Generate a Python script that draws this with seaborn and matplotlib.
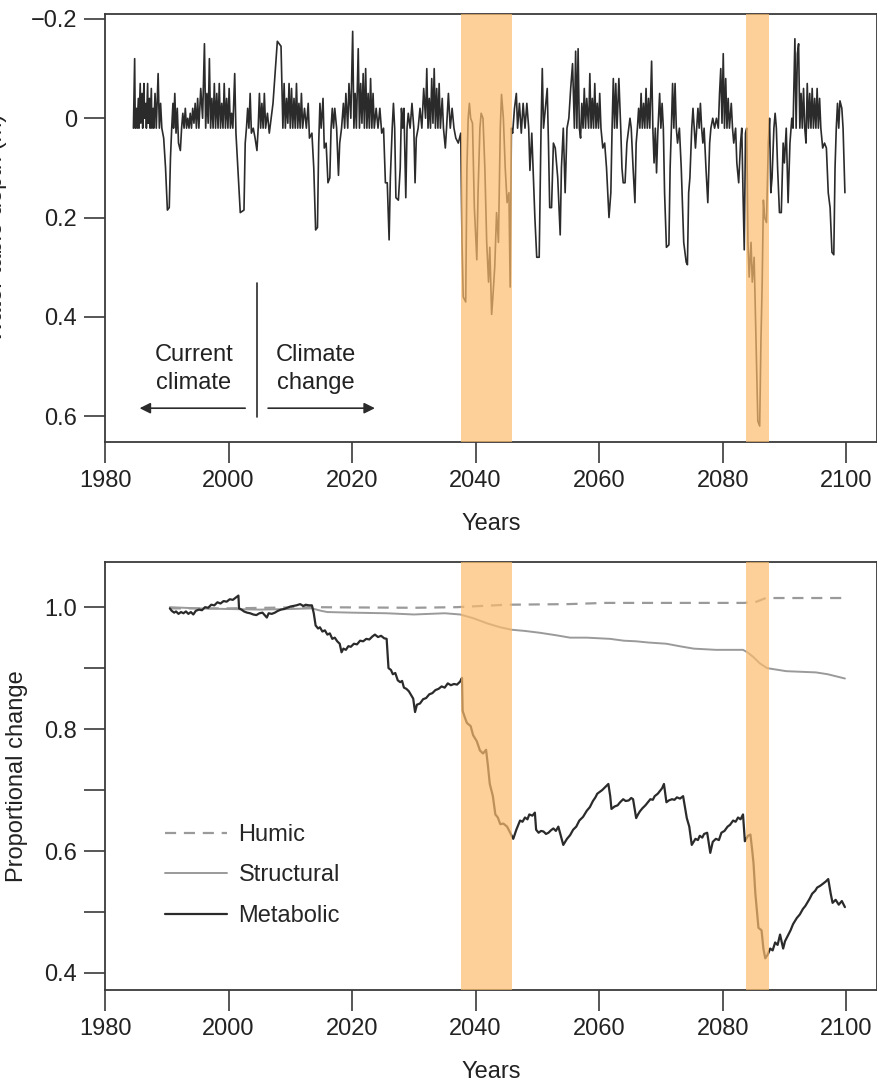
import matplotlib
matplotlib.use("Agg")
import matplotlib.pyplot as plt
import numpy as np
import pandas as pd
import seaborn as sns

# ---------------- data ----------------
wt_years = [
    1984.6, 1984.8, 1984.9, 1985.1, 1985.2, 1985.4, 1985.5, 1985.7, 1985.8, 1986.0,
    1986.1, 1986.3, 1986.4, 1986.6, 1986.7, 1986.9, 1987.0, 1987.2, 1987.3, 1987.5,
    1987.6, 1987.8, 1987.9, 1988.1, 1988.3, 1988.6, 1988.8, 1989.0, 1989.2, 1989.5,
    1989.8, 1990.1, 1990.4, 1990.6, 1990.8, 1991.0, 1991.1, 1991.3, 1991.5, 1991.7,
    1991.9, 1992.2, 1992.4, 1992.6, 1992.8, 1993.0, 1993.2, 1993.4, 1993.6, 1993.8,
    1994.0, 1994.2, 1994.4, 1994.6, 1994.8, 1995.0, 1995.2, 1995.5, 1995.8, 1996.1,
    1996.3, 1996.5, 1996.7, 1996.9, 1997.1, 1997.3, 1997.5, 1997.7, 1997.9, 1998.1,
    1998.3, 1998.5, 1998.7, 1998.9, 1999.1, 1999.3, 1999.5, 1999.7, 1999.9, 2000.1,
    2000.3, 2000.5, 2000.7, 2001.0, 2001.2, 2001.5, 2001.9, 2002.5, 2002.7, 2002.9,
    2003.1, 2003.3, 2003.5, 2003.7, 2004.0, 2004.3, 2004.6, 2004.8, 2005.0, 2005.2,
    2005.4, 2005.6, 2005.8, 2006.0, 2006.3, 2006.6, 2006.9, 2007.2, 2007.6, 2007.9,
    2008.5, 2008.8, 2009.0, 2009.2, 2009.4, 2009.6, 2009.8, 2010.0, 2010.2, 2010.4,
    2010.6, 2010.8, 2011.0, 2011.2, 2011.4, 2011.6, 2011.8, 2012.0, 2012.3, 2012.6,
    2012.9, 2013.1, 2013.5, 2013.8, 2014.1, 2014.4, 2014.6, 2014.8, 2015.0, 2015.3,
    2015.5, 2015.8, 2016.1, 2016.4, 2016.6, 2016.8, 2017.0, 2017.2, 2017.5, 2017.8,
    2018.0, 2018.3, 2018.6, 2018.8, 2019.0, 2019.3, 2019.5, 2019.8, 2020.1, 2020.3,
    2020.5, 2020.7, 2021.0, 2021.2, 2021.4, 2021.6, 2021.8, 2022.0, 2022.2, 2022.4,
    2022.6, 2022.8, 2023.0, 2023.2, 2023.4, 2023.6, 2023.9, 2024.2, 2024.5, 2024.8,
    2025.1, 2025.4, 2025.7, 2026.0, 2026.2, 2026.5, 2026.7, 2026.9, 2027.1, 2027.5,
    2027.8, 2028.0, 2028.2, 2028.4, 2028.7, 2028.9, 2029.1, 2029.4, 2029.7, 2030.0,
    2030.2, 2030.4, 2030.7, 2031.0, 2031.3, 2031.6, 2031.9, 2032.1, 2032.3, 2032.5,
    2032.7, 2032.9, 2033.1, 2033.3, 2033.5, 2033.7, 2033.9, 2034.1, 2034.3, 2034.6,
    2034.8, 2035.1, 2035.3, 2035.6, 2035.9, 2036.2, 2036.5, 2036.8, 2037.2, 2037.6,
    2037.8, 2038.0, 2038.4, 2038.6, 2038.8, 2039.0, 2039.2, 2039.5, 2039.8, 2040.2,
    2040.4, 2040.7, 2040.9, 2041.2, 2041.5, 2041.8, 2042.1, 2042.3, 2042.6, 2042.8,
    2043.1, 2043.4, 2043.7, 2044.0, 2044.2, 2044.5, 2044.8, 2045.1, 2045.4, 2045.6,
    2045.8, 2046.0, 2046.3, 2046.6, 2046.8, 2047.1, 2047.4, 2047.7, 2048.0, 2048.3,
    2048.6, 2048.8, 2049.1, 2049.3, 2049.6, 2049.9, 2050.3, 2050.6, 2050.8, 2051.0,
    2051.3, 2051.6, 2051.8, 2052.0, 2052.3, 2052.6, 2052.9, 2053.3, 2053.7, 2053.9,
    2054.2, 2054.5, 2054.8, 2055.1, 2055.4, 2055.7, 2056.0, 2056.2, 2056.4, 2056.6,
    2056.8, 2057.0, 2057.2, 2057.4, 2057.6, 2057.8, 2058.0, 2058.3, 2058.5, 2058.7,
    2058.9, 2059.1, 2059.3, 2059.5, 2059.7, 2059.9, 2060.1, 2060.3, 2060.6, 2060.9,
    2061.2, 2061.6, 2061.9, 2062.1, 2062.3, 2062.5, 2062.7, 2062.9, 2063.2, 2063.5,
    2063.7, 2063.9, 2064.2, 2064.5, 2064.8, 2065.0, 2065.2, 2065.5, 2065.8, 2066.0,
    2066.2, 2066.4, 2066.6, 2066.8, 2067.0, 2067.2, 2067.4, 2067.6, 2067.8, 2068.0,
    2068.2, 2068.5, 2068.7, 2068.9, 2069.1, 2069.3, 2069.5, 2069.8, 2070.0, 2070.2,
    2070.4, 2070.6, 2070.9, 2071.3, 2071.5, 2071.7, 2071.9, 2072.1, 2072.3, 2072.5,
    2072.7, 2073.0, 2073.3, 2073.7, 2074.1, 2074.3, 2074.5, 2074.7, 2075.0, 2075.2,
    2075.4, 2075.6, 2075.8, 2076.0, 2076.2, 2076.4, 2076.6, 2076.8, 2077.0, 2077.3,
    2077.6, 2077.9, 2078.1, 2078.4, 2078.7, 2079.0, 2079.3, 2079.5, 2079.7, 2079.9,
    2080.1, 2080.3, 2080.5, 2080.7, 2080.9, 2081.1, 2081.4, 2081.6, 2081.8, 2082.1,
    2082.3, 2082.6, 2082.9, 2083.1, 2083.3, 2083.5, 2083.7, 2083.9, 2084.1, 2084.3,
    2084.6, 2084.8, 2085.1, 2085.4, 2085.7, 2086.0, 2086.2, 2086.4, 2086.6, 2086.8,
    2087.1, 2087.4, 2087.6, 2087.8, 2088.0, 2088.3, 2088.5, 2088.7, 2088.9, 2089.2,
    2089.5, 2089.8, 2090.0, 2090.3, 2090.6, 2090.9, 2091.2, 2091.4, 2091.7, 2091.9,
    2092.1, 2092.3, 2092.5, 2092.7, 2092.9, 2093.1, 2093.3, 2093.5, 2093.7, 2093.9,
    2094.1, 2094.3, 2094.5, 2094.7, 2094.9, 2095.1, 2095.3, 2095.5, 2095.7, 2095.9,
    2096.2, 2096.5, 2096.8, 2097.1, 2097.4, 2097.7, 2098.0, 2098.2, 2098.4, 2098.6,
    2098.8, 2099.0, 2099.3, 2099.5, 2099.8,
]
wt_depth = [
    0.02, -0.12, 0.02, -0.02, 0.02, -0.04, 0.02, -0.07, 0.01, -0.05,
    0.02, -0.07, 0.00, -0.03, 0.02, -0.07, 0.01, -0.04, 0.02, -0.06,
    0.02, -0.02, 0.02, -0.05, 0.02, -0.09, 0.02, -0.03, 0.02, 0.04,
    0.10, 0.185, 0.18, 0.08, 0.02, -0.03, 0.02, -0.05, 0.03, -0.02,
    0.05, 0.065, 0.02, -0.01, 0.02, -0.02, 0.02, 0.00, 0.02, -0.01,
    0.02, -0.02, 0.01, -0.03, 0.02, -0.04, 0.02, -0.06, 0.00, -0.15,
    0.02, -0.05, 0.01, -0.12, 0.02, -0.04, 0.02, -0.07, 0.02, -0.05,
    0.02, -0.07, 0.02, -0.03, 0.02, -0.07, 0.02, -0.04, 0.02, -0.06,
    0.02, -0.01, 0.02, -0.09, 0.03, 0.10, 0.19, 0.185, 0.05, 0.02,
    -0.02, 0.02, -0.05, 0.03, 0.02, 0.04, 0.065, 0.02, -0.05, 0.02,
    -0.03, 0.02, -0.05, 0.02, -0.01, 0.03, 0.00, -0.03, -0.10, -0.155,
    -0.145, 0.02, -0.07, 0.02, -0.04, 0.01, -0.07, 0.02, -0.06, 0.02,
    -0.04, 0.02, -0.07, 0.02, -0.03, 0.02, -0.05, 0.02, -0.02, 0.02,
    -0.03, 0.04, 0.03, 0.10, 0.225, 0.22, 0.05, -0.03, 0.02, -0.04,
    0.06, 0.05, 0.13, 0.12, 0.02, -0.02, 0.02, -0.02, 0.02, 0.115,
    0.05, 0.02, -0.03, 0.02, -0.05, 0.02, -0.07, 0.00, -0.175, 0.02,
    -0.05, 0.02, -0.14, 0.02, -0.07, 0.01, -0.09, 0.02, -0.10, 0.02,
    -0.05, 0.02, -0.08, 0.02, -0.05, 0.02, -0.02, 0.02, -0.02, 0.03,
    0.02, 0.13, 0.13, 0.245, 0.12, 0.02, -0.03, 0.02, 0.16, 0.165,
    0.10, -0.02, 0.02, -0.02, 0.16, 0.02, -0.01, 0.02, -0.03, 0.02,
    0.13, 0.04, 0.02, -0.02, 0.02, -0.06, 0.00, -0.10, 0.02, -0.04,
    0.02, -0.08, 0.01, -0.10, 0.02, -0.06, 0.02, -0.07, 0.02, -0.04,
    0.02, 0.06, 0.02, -0.05, 0.02, -0.02, 0.02, 0.04, 0.05, 0.03,
    0.25, 0.36, 0.37, 0.10, 0.00, -0.03, 0.00, 0.01, 0.18, 0.285,
    0.15, 0.02, -0.01, 0.00, 0.10, 0.25, 0.33, 0.26, 0.395, 0.36,
    0.30, 0.19, 0.25, 0.02, -0.048, 0.00, 0.10, 0.17, 0.15, 0.34,
    0.02, 0.03, -0.02, -0.05, 0.02, -0.03, 0.03, -0.03, 0.02, -0.03,
    0.02, 0.105, 0.03, 0.10, 0.20, 0.28, 0.28, 0.02, -0.10, 0.02,
    -0.02, -0.06, 0.05, 0.18, 0.18, 0.05, 0.06, 0.12, 0.235, 0.10,
    0.02, 0.15, 0.02, 0.00, -0.06, -0.11, 0.02, -0.135, 0.02, -0.14,
    0.02, 0.04, -0.03, 0.02, -0.06, 0.02, -0.04, 0.02, -0.09, 0.02,
    -0.04, 0.02, -0.07, 0.02, -0.03, 0.02, -0.05, 0.02, 0.06, 0.05,
    0.10, 0.20, 0.15, 0.02, -0.08, 0.02, -0.07, 0.02, -0.08, 0.02,
    0.10, 0.13, 0.13, 0.05, 0.02, 0.00, 0.02, 0.10, 0.17, 0.05,
    0.02, -0.02, 0.02, -0.05, 0.02, -0.03, 0.02, -0.06, 0.02, -0.04,
    0.02, -0.115, 0.02, 0.09, 0.02, 0.11, 0.03, -0.05, 0.02, -0.03,
    0.02, 0.15, 0.26, 0.255, 0.10, 0.02, -0.07, 0.02, -0.07, 0.02,
    0.05, 0.02, 0.10, 0.25, 0.29, 0.295, 0.15, 0.12, 0.02, -0.02,
    0.02, 0.06, 0.02, -0.02, 0.02, -0.03, 0.02, 0.05, 0.02, 0.10,
    0.17, 0.05, 0.02, 0.00, 0.02, 0.00, 0.02, -0.05, -0.10, 0.01,
    -0.13, 0.02, -0.08, 0.02, -0.04, 0.02, -0.03, 0.02, 0.05, 0.02,
    0.09, 0.13, 0.05, 0.02, 0.15, 0.265, 0.03, 0.02, 0.25, 0.32,
    0.25, 0.33, 0.28, 0.45, 0.61, 0.62, 0.45, 0.335, 0.165, 0.20,
    0.21, 0.05, 0.00, 0.15, 0.12, 0.02, -0.01, 0.02, 0.10, 0.19,
    0.19, 0.05, 0.09, 0.02, 0.17, 0.05, 0.00, 0.02, -0.16, 0.02,
    -0.13, -0.15, 0.02, -0.05, 0.02, -0.06, 0.02, 0.05, -0.07, 0.02,
    -0.05, 0.02, -0.06, 0.02, -0.04, 0.02, -0.06, 0.02, -0.04, 0.02,
    0.06, 0.05, 0.06, 0.15, 0.18, 0.27, 0.275, 0.10, 0.02, -0.03,
    0.02, -0.035, -0.02, 0.02, 0.15,
]

met_years = [
    1990.5, 1990.8, 1991.2, 1991.5, 1991.9, 1992.3, 1992.7, 1993.1, 1993.5, 1993.9,
    1994.3, 1994.7, 1995.2, 1995.7, 1996.2, 1996.7, 1997.2, 1997.7, 1998.2, 1998.7,
    1999.2, 1999.7, 2000.2, 2000.7, 2001.2, 2001.6, 2001.7, 2002.1, 2002.5, 2003.0,
    2003.5, 2004.0, 2004.5, 2005.0, 2005.5, 2006.2, 2006.5, 2007.0, 2007.5, 2008.0,
    2008.5, 2009.0, 2009.5, 2010.0, 2010.5, 2011.0, 2011.6, 2012.1, 2012.5, 2013.0,
    2013.5, 2013.8, 2014.1, 2014.5, 2014.8, 2015.2, 2015.6, 2016.0, 2016.4, 2016.8,
    2017.2, 2017.6, 2018.0, 2018.3, 2018.6, 2019.0, 2019.4, 2019.8, 2020.3, 2020.8,
    2021.3, 2021.8, 2022.3, 2022.8, 2023.3, 2023.7, 2024.2, 2024.7, 2025.2, 2025.6,
    2025.9, 2026.3, 2026.6, 2027.0, 2027.4, 2027.8, 2028.1, 2028.4, 2028.8, 2029.2,
    2029.5, 2029.9, 2030.2, 2030.5, 2031.0, 2031.5, 2032.0, 2032.5, 2033.0, 2033.5,
    2034.0, 2034.5, 2035.0, 2035.5, 2036.0, 2036.5, 2037.0, 2037.5, 2037.8, 2037.9,
    2038.3, 2038.6, 2039.2, 2039.6, 2040.2, 2040.7, 2041.2, 2041.7, 2042.0, 2042.3,
    2042.8, 2043.2, 2043.6, 2044.0, 2044.5, 2045.1, 2045.6, 2046.1, 2046.6, 2047.2,
    2047.6, 2048.0, 2048.4, 2048.7, 2049.2, 2049.6, 2049.8, 2050.2, 2050.6, 2051.0,
    2051.4, 2051.8, 2052.2, 2052.6, 2053.0, 2053.4, 2053.8, 2054.2, 2054.8, 2055.3,
    2055.8, 2056.3, 2056.8, 2057.4, 2058.0, 2058.5, 2059.0, 2059.4, 2059.7, 2060.1,
    2060.5, 2061.0, 2061.5, 2061.8, 2062.0, 2062.5, 2063.0, 2063.4, 2063.9, 2064.3,
    2064.8, 2065.2, 2065.5, 2066.0, 2066.3, 2066.6, 2067.0, 2067.5, 2067.9, 2068.3,
    2068.7, 2069.0, 2069.5, 2069.9, 2070.2, 2070.5, 2070.9, 2071.3, 2071.8, 2072.2,
    2072.6, 2073.1, 2073.6, 2074.2, 2074.6, 2075.0, 2075.3, 2075.6, 2076.0, 2076.3,
    2076.7, 2077.0, 2077.5, 2078.0, 2078.4, 2078.9, 2079.4, 2079.8, 2080.3, 2080.8,
    2081.2, 2081.7, 2082.1, 2082.5, 2082.9, 2083.3, 2083.6, 2084.1, 2084.5, 2084.8,
    2085.0, 2085.3, 2085.8, 2086.3, 2086.6, 2086.9, 2087.3, 2087.7, 2088.1, 2088.5,
    2088.9, 2089.3, 2089.8, 2090.1, 2090.5, 2091.0, 2091.4, 2092.0, 2092.5, 2093.0,
    2093.4, 2093.7, 2094.1, 2094.5, 2095.0, 2095.3, 2095.8, 2096.2, 2096.7, 2097.1,
    2097.5, 2097.8, 2098.3, 2098.8, 2099.3, 2099.8,
]
met_vals = [
    0.998, 0.994, 0.991, 0.993, 0.989, 0.992, 0.990, 0.993, 0.989, 0.992,
    0.988, 0.994, 0.996, 0.995, 1.000, 0.999, 1.004, 1.003, 1.008, 1.006,
    1.010, 1.009, 1.013, 1.012, 1.016, 1.019, 0.998, 0.996, 0.993, 0.991,
    0.990, 0.988, 0.987, 0.990, 0.991, 0.983, 0.990, 0.989, 0.991, 0.994,
    0.996, 0.997, 0.999, 1.001, 1.002, 1.003, 1.005, 1.002, 1.004, 1.003,
    1.003, 0.990, 0.970, 0.965, 0.967, 0.960, 0.962, 0.955, 0.957, 0.948,
    0.950, 0.944, 0.940, 0.926, 0.932, 0.930, 0.936, 0.935, 0.940, 0.939,
    0.945, 0.944, 0.948, 0.947, 0.952, 0.955, 0.951, 0.953, 0.949, 0.948,
    0.900, 0.897, 0.890, 0.892, 0.880, 0.877, 0.879, 0.868, 0.866, 0.862,
    0.857, 0.850, 0.828, 0.840, 0.842, 0.849, 0.851, 0.857, 0.859, 0.864,
    0.866, 0.870, 0.868, 0.875, 0.872, 0.874, 0.873, 0.878, 0.884, 0.830,
    0.818, 0.810, 0.805, 0.790, 0.780, 0.765, 0.760, 0.766, 0.740, 0.710,
    0.690, 0.660, 0.655, 0.644, 0.645, 0.640, 0.630, 0.620, 0.635, 0.650,
    0.648, 0.655, 0.652, 0.660, 0.658, 0.663, 0.635, 0.630, 0.633, 0.632,
    0.628, 0.630, 0.634, 0.637, 0.633, 0.640, 0.625, 0.610, 0.620, 0.626,
    0.635, 0.640, 0.650, 0.656, 0.666, 0.672, 0.682, 0.688, 0.694, 0.697,
    0.700, 0.705, 0.710, 0.690, 0.669, 0.673, 0.675, 0.680, 0.685, 0.682,
    0.683, 0.687, 0.685, 0.654, 0.660, 0.665, 0.670, 0.675, 0.680, 0.685,
    0.684, 0.690, 0.694, 0.699, 0.703, 0.710, 0.680, 0.683, 0.685, 0.684,
    0.688, 0.686, 0.690, 0.654, 0.640, 0.610, 0.615, 0.620, 0.618, 0.625,
    0.622, 0.628, 0.630, 0.597, 0.615, 0.620, 0.618, 0.630, 0.633, 0.640,
    0.643, 0.650, 0.648, 0.655, 0.652, 0.660, 0.616, 0.625, 0.627, 0.600,
    0.580, 0.530, 0.474, 0.470, 0.440, 0.424, 0.430, 0.440, 0.437, 0.450,
    0.446, 0.463, 0.440, 0.452, 0.460, 0.470, 0.480, 0.490, 0.496, 0.505,
    0.510, 0.515, 0.522, 0.530, 0.535, 0.540, 0.543, 0.546, 0.550, 0.554,
    0.530, 0.515, 0.520, 0.512, 0.518, 0.508,
]

str_years = [1990.5, 1995.0, 2000.0, 2005.0, 2010.0, 2013.5, 2015.0, 2016.0, 2020.0, 2025.6,
             2030.0, 2035.0, 2037.5, 2039.6, 2042.0, 2044.0, 2045.8, 2048.0, 2050.4, 2053.0,
             2055.3, 2058.0, 2061.8, 2064.0, 2066.0, 2068.0, 2070.9, 2073.0, 2075.3, 2078.9,
             2083.3, 2084.0, 2085.0, 2086.0, 2087.2, 2090.3, 2095.1, 2097.0, 2099.8]
str_vals = [1.000, 0.998, 0.997, 0.996, 0.997, 0.998, 0.994, 0.992, 0.991, 0.990,
            0.988, 0.990, 0.988, 0.982, 0.973, 0.967, 0.963, 0.961, 0.958, 0.954,
            0.950, 0.950, 0.948, 0.945, 0.944, 0.942, 0.940, 0.936, 0.932, 0.930,
            0.930, 0.926, 0.918, 0.908, 0.900, 0.895, 0.893, 0.890, 0.883]

hum_years = [1990.5, 2000.0, 2013.0, 2030.0, 2037.0, 2045.0, 2055.0, 2061.0, 2070.0,
             2083.5, 2085.5, 2087.0, 2099.8]
hum_vals = [0.998, 0.998, 1.000, 0.999, 1.000, 1.004, 1.005, 1.007, 1.007,
            1.007, 1.009, 1.015, 1.015]

drought_periods = [(2037.6, 2045.9), (2083.8, 2087.5)]

year_ticks = [1980, 2000, 2020, 2040, 2060, 2080, 2100]
depth_ticks = [-0.2, 0.0, 0.2, 0.4, 0.6]
depth_labels = ["\u22120.2", "0", "0.2", "0.4", "0.6"]
prop_ticks = [0.4, 0.5, 0.6, 0.7, 0.8, 0.9, 1.0]
prop_labels = ["0.4", "", "0.6", "", "0.8", "", "1.0"]

# ---------------- style ----------------
sns.set_style("ticks")
plt.rcParams["font.family"] = ["Liberation Sans", "DejaVu Sans"]
FS = 17
DARK = "#2b2b2b"
SPINE = "#3a3a3a"
BAND = "#FCBC6D"

fig = plt.figure(figsize=(8.78, 10.84), dpi=100)
ax1 = fig.add_axes([0.1196, 0.5923, 0.8793, 0.3948])
ax2 = fig.add_axes([0.1196, 0.0867, 0.8793, 0.3948])

df_wt = pd.DataFrame({"year": wt_years, "depth": wt_depth})
sns.lineplot(data=df_wt, x="year", y="depth", ax=ax1, estimator=None, sort=False,
             color=DARK, lw=1.2, zorder=2)

df_met = pd.DataFrame({"year": met_years, "val": met_vals})
df_str = pd.DataFrame({"year": str_years, "val": str_vals})
df_hum = pd.DataFrame({"year": hum_years, "val": hum_vals})
sns.lineplot(data=df_str, x="year", y="val", ax=ax2, estimator=None, sort=False,
             color="#9a9a9a", lw=1.4, zorder=2)
sns.lineplot(data=df_hum, x="year", y="val", ax=ax2, estimator=None, sort=False,
             color="#9a9a9a", lw=1.6, zorder=2)
ax2.lines[-1].set_linestyle((0, (5, 3.5)))
sns.lineplot(data=df_met, x="year", y="val", ax=ax2, estimator=None, sort=False,
             color=DARK, lw=1.6, zorder=2)

for ax in (ax1, ax2):
    for a, b in drought_periods:
        ax.axvspan(a, b, color=BAND, alpha=0.7, lw=0, zorder=3)
    ax.set_xlim(1980, 2105)
    ax.set_xticks(year_ticks)
    ax.set_xticklabels([str(y) for y in year_ticks])
    ax.tick_params(axis="both", length=15, width=1.2, color=SPINE, labelsize=FS,
                   labelcolor="#222222", direction="out", pad=5)
    for s in ax.spines.values():
        s.set_visible(True)
        s.set_linewidth(1.3)
        s.set_color(SPINE)
    ax.set_xlabel("Years", fontsize=FS, color="#222222", labelpad=15)

ax1.set_ylim(0.652, -0.21)
ax1.set_yticks(depth_ticks)
ax1.set_yticklabels(depth_labels)
ax1.set_ylabel("Water table depth (m)", fontsize=FS, color="#222222")
ax1.yaxis.set_label_coords(-0.127, 0.5)

ax2.set_ylim(0.372, 1.074)
ax2.set_yticks(prop_ticks)
ax2.set_yticklabels(prop_labels)
ax2.set_ylabel("Proportional change", fontsize=FS, color="#222222")
ax2.yaxis.set_label_coords(-0.100, 0.5)

# annotations on upper panel
ax1.plot([2004.6, 2004.6], [0.332, 0.602], color=DARK, lw=1.2, zorder=4)
ax1.annotate("", xy=(1985.6, 0.584), xytext=(2002.7, 0.584),
             arrowprops=dict(arrowstyle="-|>", color=DARK, lw=1.2,
                             mutation_scale=16, shrinkA=0, shrinkB=0))
ax1.annotate("", xy=(2023.7, 0.584), xytext=(2006.4, 0.584),
             arrowprops=dict(arrowstyle="-|>", color=DARK, lw=1.2,
                             mutation_scale=16, shrinkA=0, shrinkB=0))
ax1.text(1994.4, 0.505, "Current\nclimate", ha="center", va="center",
         fontsize=FS, color="#222222", linespacing=1.35)
ax1.text(2014.1, 0.505, "Climate\nchange", ha="center", va="center",
         fontsize=FS, color="#222222", linespacing=1.35)

# legend on lower panel
handles = [ax2.lines[1], ax2.lines[0], ax2.lines[2]]
labels = ["Humic", "Structural", "Metabolic"]
ax2.legend(handles, labels, loc="upper left", bbox_to_anchor=(0.066, 0.41),
           frameon=False, fontsize=FS, handlelength=2.6, handletextpad=0.5,
           labelspacing=0.78, borderaxespad=0)

fig.savefig("out.png", dpi=100)
